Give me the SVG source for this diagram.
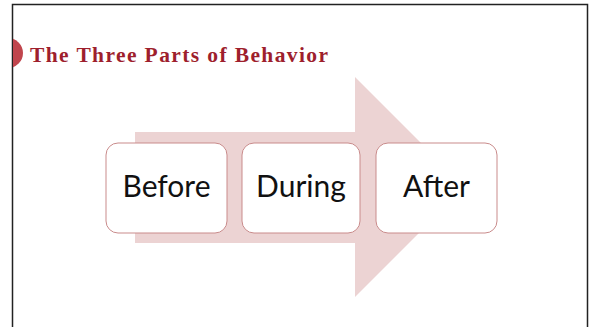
<svg xmlns="http://www.w3.org/2000/svg" width="589" height="327" viewBox="0 0 589 327">
  <style>
    .title { font-family: "Liberation Serif", "DejaVu Serif", serif; font-weight: bold; font-size: 21.5px; fill: #9e1f2d; }
    .box rect { fill: #ffffff; stroke: #c98b8b; stroke-width: 1; }
    .box text { font-family: Lato, "Open Sans", sans-serif; font-size: 30px; fill: #111111; text-anchor: middle; }
  </style>
  <defs>
    <clipPath id="frame"><rect x="13" y="5" width="575" height="322"/></clipPath>
  </defs>
  <rect x="0" y="0" width="589" height="327" fill="#ffffff"/>
  <!-- slide frame -->
  <path d="M12.5 327 V4.5 H587.5 V327" fill="none" stroke="#222222" stroke-width="1.5"/>
  <!-- title bullet -->
  <circle cx="8" cy="53" r="15" fill="#c0454d" clip-path="url(#frame)"/>
  <text class="title" x="30" y="62" textLength="298" lengthAdjust="spacing">The Three Parts of Behavior</text>

  <!-- process arrow -->
  <g id="connectors">
    <path d="M135 132 H355 V77 L465 187 L355 297 V243 H135 Z" fill="#ecd3d3"/>
  </g>

  <g id="before" class="box">
    <rect x="106" y="143" width="121" height="90" rx="12"/>
    <text x="166.5" y="197">Before</text>
  </g>
  <g id="during" class="box">
    <rect x="242" y="143" width="118" height="90" rx="12"/>
    <text x="301" y="197">During</text>
  </g>
  <g id="after" class="box">
    <rect x="376" y="143" width="121" height="90" rx="12"/>
    <text x="436.5" y="197">After</text>
  </g>
</svg>
